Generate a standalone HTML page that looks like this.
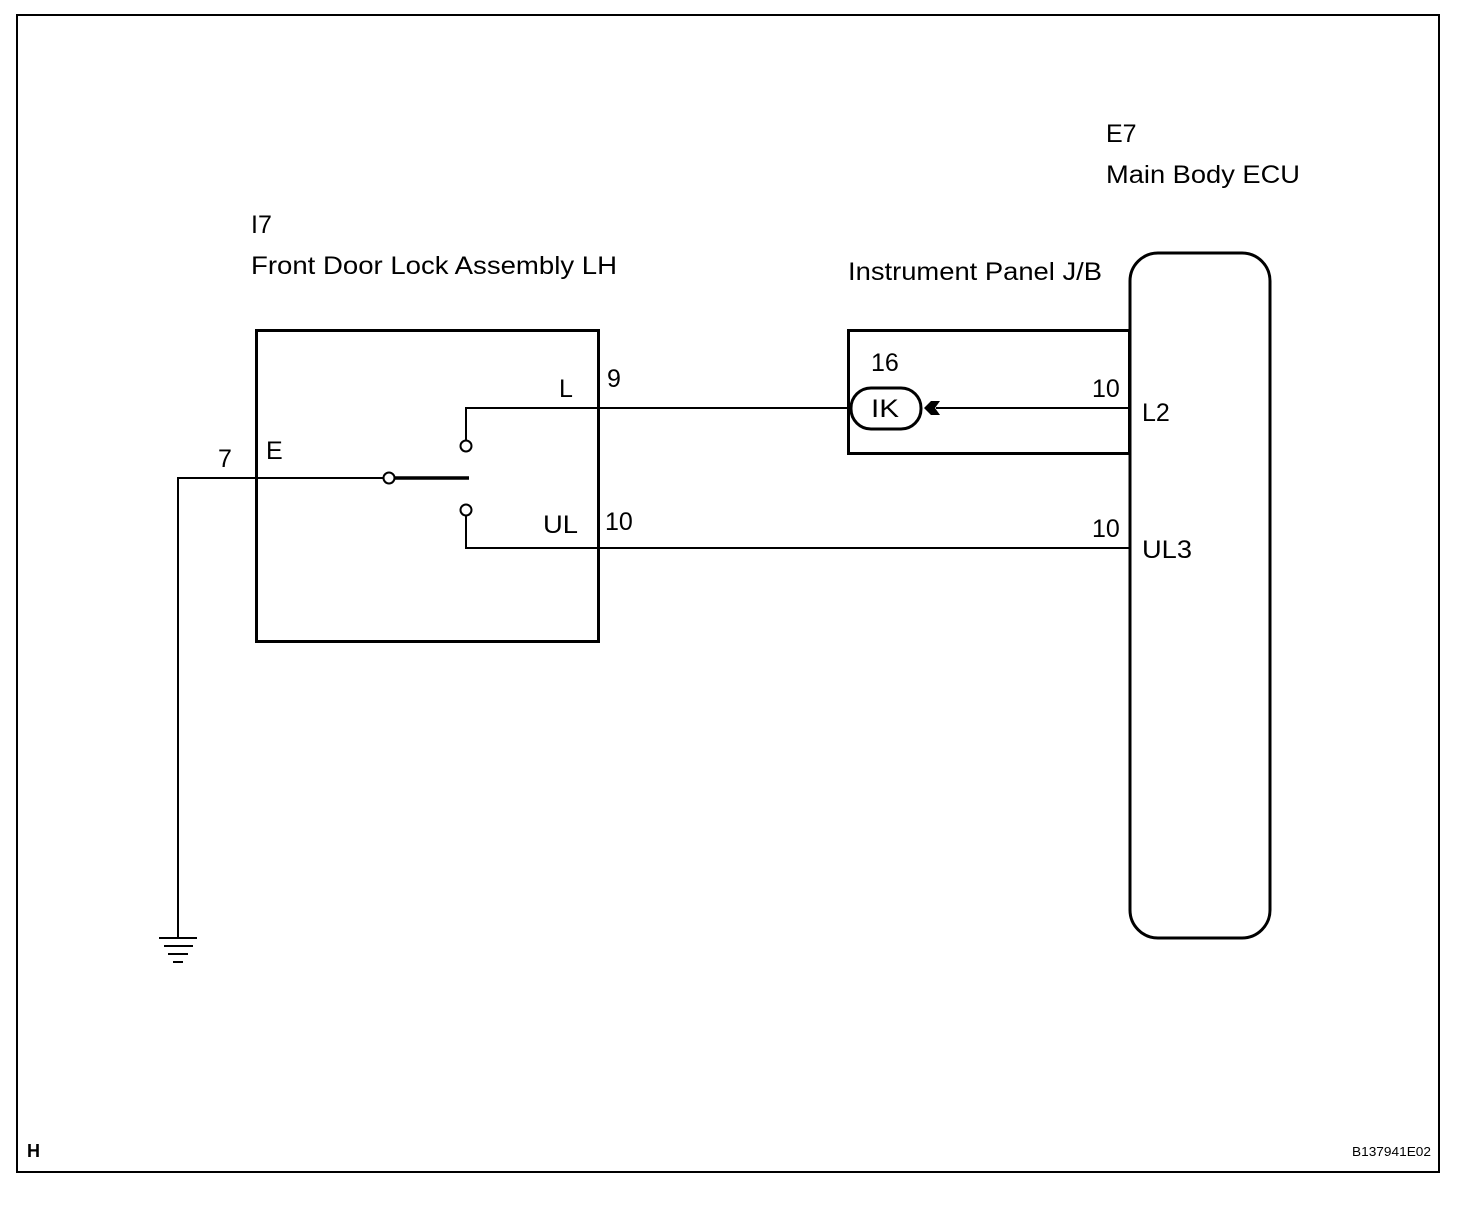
<!DOCTYPE html>
<html><head><style>
body{margin:0;background:#fff}
svg text{font-family:"Liberation Sans",Arial,sans-serif;fill:#000}
</style></head><body>
<svg width="1472" height="1206" viewBox="0 0 1472 1206" xmlns="http://www.w3.org/2000/svg">
<rect x="0" y="0" width="1472" height="1206" fill="#fff"/>
<rect x="17" y="15" width="1422" height="1157" fill="none" stroke="#000" stroke-width="2"/>
<g font-size="25">
<text x="251" y="233">I7</text>
<text x="251" y="274" textLength="366" lengthAdjust="spacingAndGlyphs">Front Door Lock Assembly LH</text>
<text x="848" y="280" textLength="254" lengthAdjust="spacingAndGlyphs">Instrument Panel J/B</text>
<text x="1106" y="142">E7</text>
<text x="1106" y="183" textLength="194" lengthAdjust="spacingAndGlyphs">Main Body ECU</text>
<text x="218" y="467">7</text>
<text x="266" y="459">E</text>
<text x="559" y="397">L</text>
<text x="607" y="387">9</text>
<text x="543" y="533" textLength="35" lengthAdjust="spacingAndGlyphs">UL</text>
<text x="605" y="530">10</text>
<text x="871" y="371">16</text>
<text x="1092" y="397">10</text>
<text x="1142" y="421">L2</text>
<text x="1092" y="537">10</text>
<text x="1142" y="558" textLength="50" lengthAdjust="spacingAndGlyphs">UL3</text>
</g>
<text x="27" y="1157" font-size="18" font-weight="bold">H</text>
<text x="1352" y="1156" font-size="13" textLength="79" lengthAdjust="spacingAndGlyphs">B137941E02</text>
<g fill="none" stroke="#000">
<rect x="256.5" y="330.5" width="342" height="311" stroke-width="3"/>
<rect x="848.5" y="330.5" width="281" height="123" stroke-width="3"/>
<rect x="1130" y="253" width="140" height="685" rx="28" stroke-width="3"/>
<polyline points="178,938 178,478 384,478" stroke-width="2"/>
<line x1="395" y1="478" x2="469" y2="478" stroke-width="3.5"/>
<polyline points="466,441 466,408 848,408" stroke-width="2"/>
<line x1="936" y1="408" x2="1130" y2="408" stroke-width="2"/>
<polyline points="466,515 466,548 1130,548" stroke-width="2"/>
<circle cx="389" cy="478" r="5.5" stroke-width="2" fill="#fff"/>
<circle cx="466" cy="446" r="5.5" stroke-width="2" fill="#fff"/>
<circle cx="466" cy="510" r="5.5" stroke-width="2" fill="#fff"/>
<rect x="851" y="388" width="70" height="41" rx="20" stroke-width="3" fill="#fff"/>
<line x1="159" y1="938" x2="197" y2="938" stroke-width="2"/>
<line x1="164" y1="946" x2="193" y2="946" stroke-width="2"/>
<line x1="168" y1="954" x2="188" y2="954" stroke-width="2"/>
<line x1="173" y1="962" x2="183" y2="962" stroke-width="2"/>
</g>
<text x="871" y="417" font-size="25" textLength="28" lengthAdjust="spacingAndGlyphs">IK</text>
<polygon points="924,408 931,401 940,401 935,408 940,415 931,415" fill="#000"/>
</svg>
</body></html>
